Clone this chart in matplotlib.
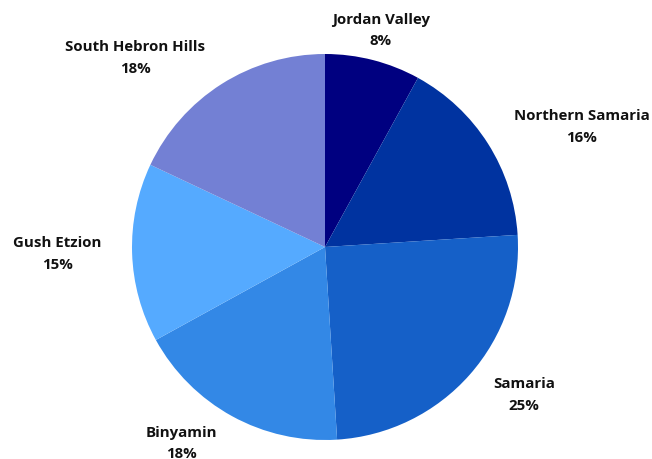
import numpy as np
import matplotlib.pyplot as plt

labels = ['Jordan Valley', 'Northern Samaria', 'Samaria', 'Binyamin', 'Gush Etzion', 'South Hebron Hills']
values = [8, 16, 25, 18, 15, 18]
colors = ['#000080', '#0033a0', '#1560c8', '#3388e6', '#55aaff', '#7380d4']

plt.rcParams['font.family'] = ['Open Sans', 'DejaVu Sans']

fig = plt.figure(figsize=(6.52, 4.59), dpi=100)
R = 193
cx, cy = 325, 247
ax = fig.add_axes([(cx - R) / 652, (459 - cy - R) / 459, 2 * R / 652, 2 * R / 459])

wedges, _ = ax.pie(values, colors=colors, startangle=90, counterclock=False,
                   radius=1, wedgeprops=dict(linewidth=0))
ax.set_xlim(-1, 1)
ax.set_ylim(-1, 1)
ax.set_aspect('equal')
ax.axis('off')

total = sum(values)
start = 90.0
for lab, v in zip(labels, values):
    ang = start - 360.0 * v / total / 2
    start -= 360.0 * v / total
    x = 1.16 * np.cos(np.radians(ang))
    y = 1.16 * np.sin(np.radians(ang))
    if abs(x) < 0.35:
        ha = 'center'
    elif x > 0:
        ha = 'left'
    else:
        ha = 'right'
    ax.text(x, y, '%s\n%d%%' % (lab, v), ha=ha, va='center', multialignment='center',
            fontsize=10.8, fontweight='bold', color='#111111', clip_on=False,
            linespacing=1.65)

plt.savefig('out.png', dpi=100)
